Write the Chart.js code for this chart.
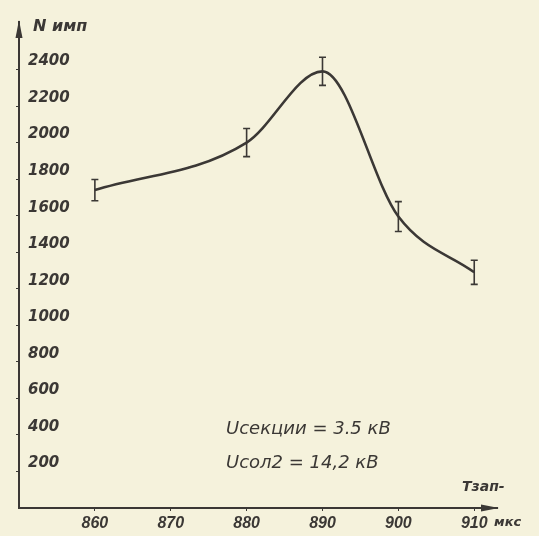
<!DOCTYPE html>
<html>
<head>
<meta charset="utf-8">
<script src="https://cdn.jsdelivr.net/npm/chart.js@4.4.0/dist/chart.umd.min.js"></script>
<style>
  html, body { margin: 0; background: #f5f2dc; }
  #caixa { width: 539px; height: 536px; }
</style>
</head>
<body>
<div id="caixa"><canvas id="grafico"></canvas></div>
<script>
// dados
const tempos = [860, 880, 890, 900, 910]
const impulsos = [1740, 2000, 2390, 1595, 1290]
const erros = [58, 77, 77, 82, 66]

const ticksX = [860, 870, 880, 890, 900, 910]
const ticksY = [200, 400, 600, 800, 1000, 1200, 1400, 1600, 1800, 2000, 2200, 2400]

const tituloY = 'N имп'
const tituloX = 'Тзап-'
const unidadeX = 'мкс'
const linhaSec = 'Uсекции = 3.5 кВ'
const linhaSol = 'Uсол2 = 14,2 кВ'

const tinta = '#3b3835'

const barrasErro = {
  id: 'barrasErro',
  afterDatasetsDraw(chart) {
    const { ctx, scales: { x, y } } = chart
    ctx.save()
    ctx.strokeStyle = tinta
    ctx.lineWidth = 1.6
    tempos.forEach((t, i) => {
      const px = x.getPixelForValue(t)
      const topo = y.getPixelForValue(impulsos[i] + erros[i])
      const base = y.getPixelForValue(impulsos[i] - erros[i])
      ctx.beginPath()
      ctx.moveTo(px, topo); ctx.lineTo(px, base)
      ctx.moveTo(px - 3.5, topo); ctx.lineTo(px + 3.5, topo)
      ctx.moveTo(px - 3.5, base); ctx.lineTo(px + 3.5, base)
      ctx.stroke()
    })
    ctx.restore()
  }
}

const textos = {
  id: 'textos',
  afterDraw(chart) {
    const { ctx, chartArea: a } = chart
    ctx.save()
    ctx.fillStyle = tinta
    ctx.strokeStyle = tinta
    // setas dos eixos
    ctx.beginPath()
    ctx.moveTo(a.left, a.top - 2)
    ctx.lineTo(a.left - 3.5, a.top + 16)
    ctx.lineTo(a.left + 3.5, a.top + 16)
    ctx.closePath()
    ctx.fill()
    ctx.beginPath()
    ctx.moveTo(a.right + 2, a.bottom)
    ctx.lineTo(a.right - 16, a.bottom - 3.5)
    ctx.lineTo(a.right - 16, a.bottom + 3.5)
    ctx.closePath()
    ctx.fill()

    ctx.textBaseline = 'middle'
    ctx.textAlign = 'left'
    ctx.font = 'italic bold 16px "DejaVu Sans"'
    ctx.fillText(tituloY, a.left + 14, 27)
    ctx.font = 'italic 18px "DejaVu Sans"'
    ctx.fillText(linhaSec, 226, 429)
    ctx.fillText(linhaSol, 226, 463)
    ctx.font = 'italic bold 14px "DejaVu Sans"'
    ctx.fillText(tituloX, 462, 487)
    ctx.font = 'italic bold 13px "DejaVu Sans"'
    ctx.fillText(unidadeX, 494, 523)
    ctx.restore()
  }
}

const grafico = new Chart(document.getElementById('grafico'), {
  type: 'line',
  data: {
    datasets: [{
      data: tempos.map((t, i) => ({ x: t, y: impulsos[i] })),
      borderColor: tinta,
      borderWidth: 2.6,
      pointRadius: 0,
      cubicInterpolationMode: 'monotone',
      fill: false
    }]
  },
  options: {
    responsive: true,
    maintainAspectRatio: false,
    animation: false,
    layout: { padding: { top: 22, right: 42, left: 0, bottom: 0 } },
    plugins: { legend: { display: false }, tooltip: { enabled: false } },
    scales: {
      x: {
        type: 'linear',
        min: 850,
        max: 913,
        afterBuildTicks: s => { s.ticks = ticksX.map(v => ({ value: v })) },
        afterFit: s => { s.height = 28 },
        grid: { drawOnChartArea: false, tickLength: 3, color: tinta, lineWidth: 1 },
        border: { color: tinta, width: 2 },
        ticks: {
          color: tinta,
          padding: 3,
          maxRotation: 0,
          callback: v => String(v),
          font: { family: 'Liberation Sans', size: 16, style: 'italic', weight: 'bold' }
        }
      },
      y: {
        type: 'linear',
        min: 0,
        max: 2660,
        afterBuildTicks: s => { s.ticks = ticksY.map(v => ({ value: v })) },
        afterFit: s => { s.width = 19 },
        grid: { drawOnChartArea: false, tickLength: 3, color: tinta, lineWidth: 1 },
        border: { color: tinta, width: 2 },
        ticks: {
          color: tinta,
          mirror: true,
          padding: 9,
          labelOffset: -8,
          callback: v => String(v),
          font: { family: 'DejaVu Sans', size: 15, style: 'italic', weight: 'bold' }
        }
      }
    }
  },
  plugins: [barrasErro, textos]
})
</script>
</body>
</html>
